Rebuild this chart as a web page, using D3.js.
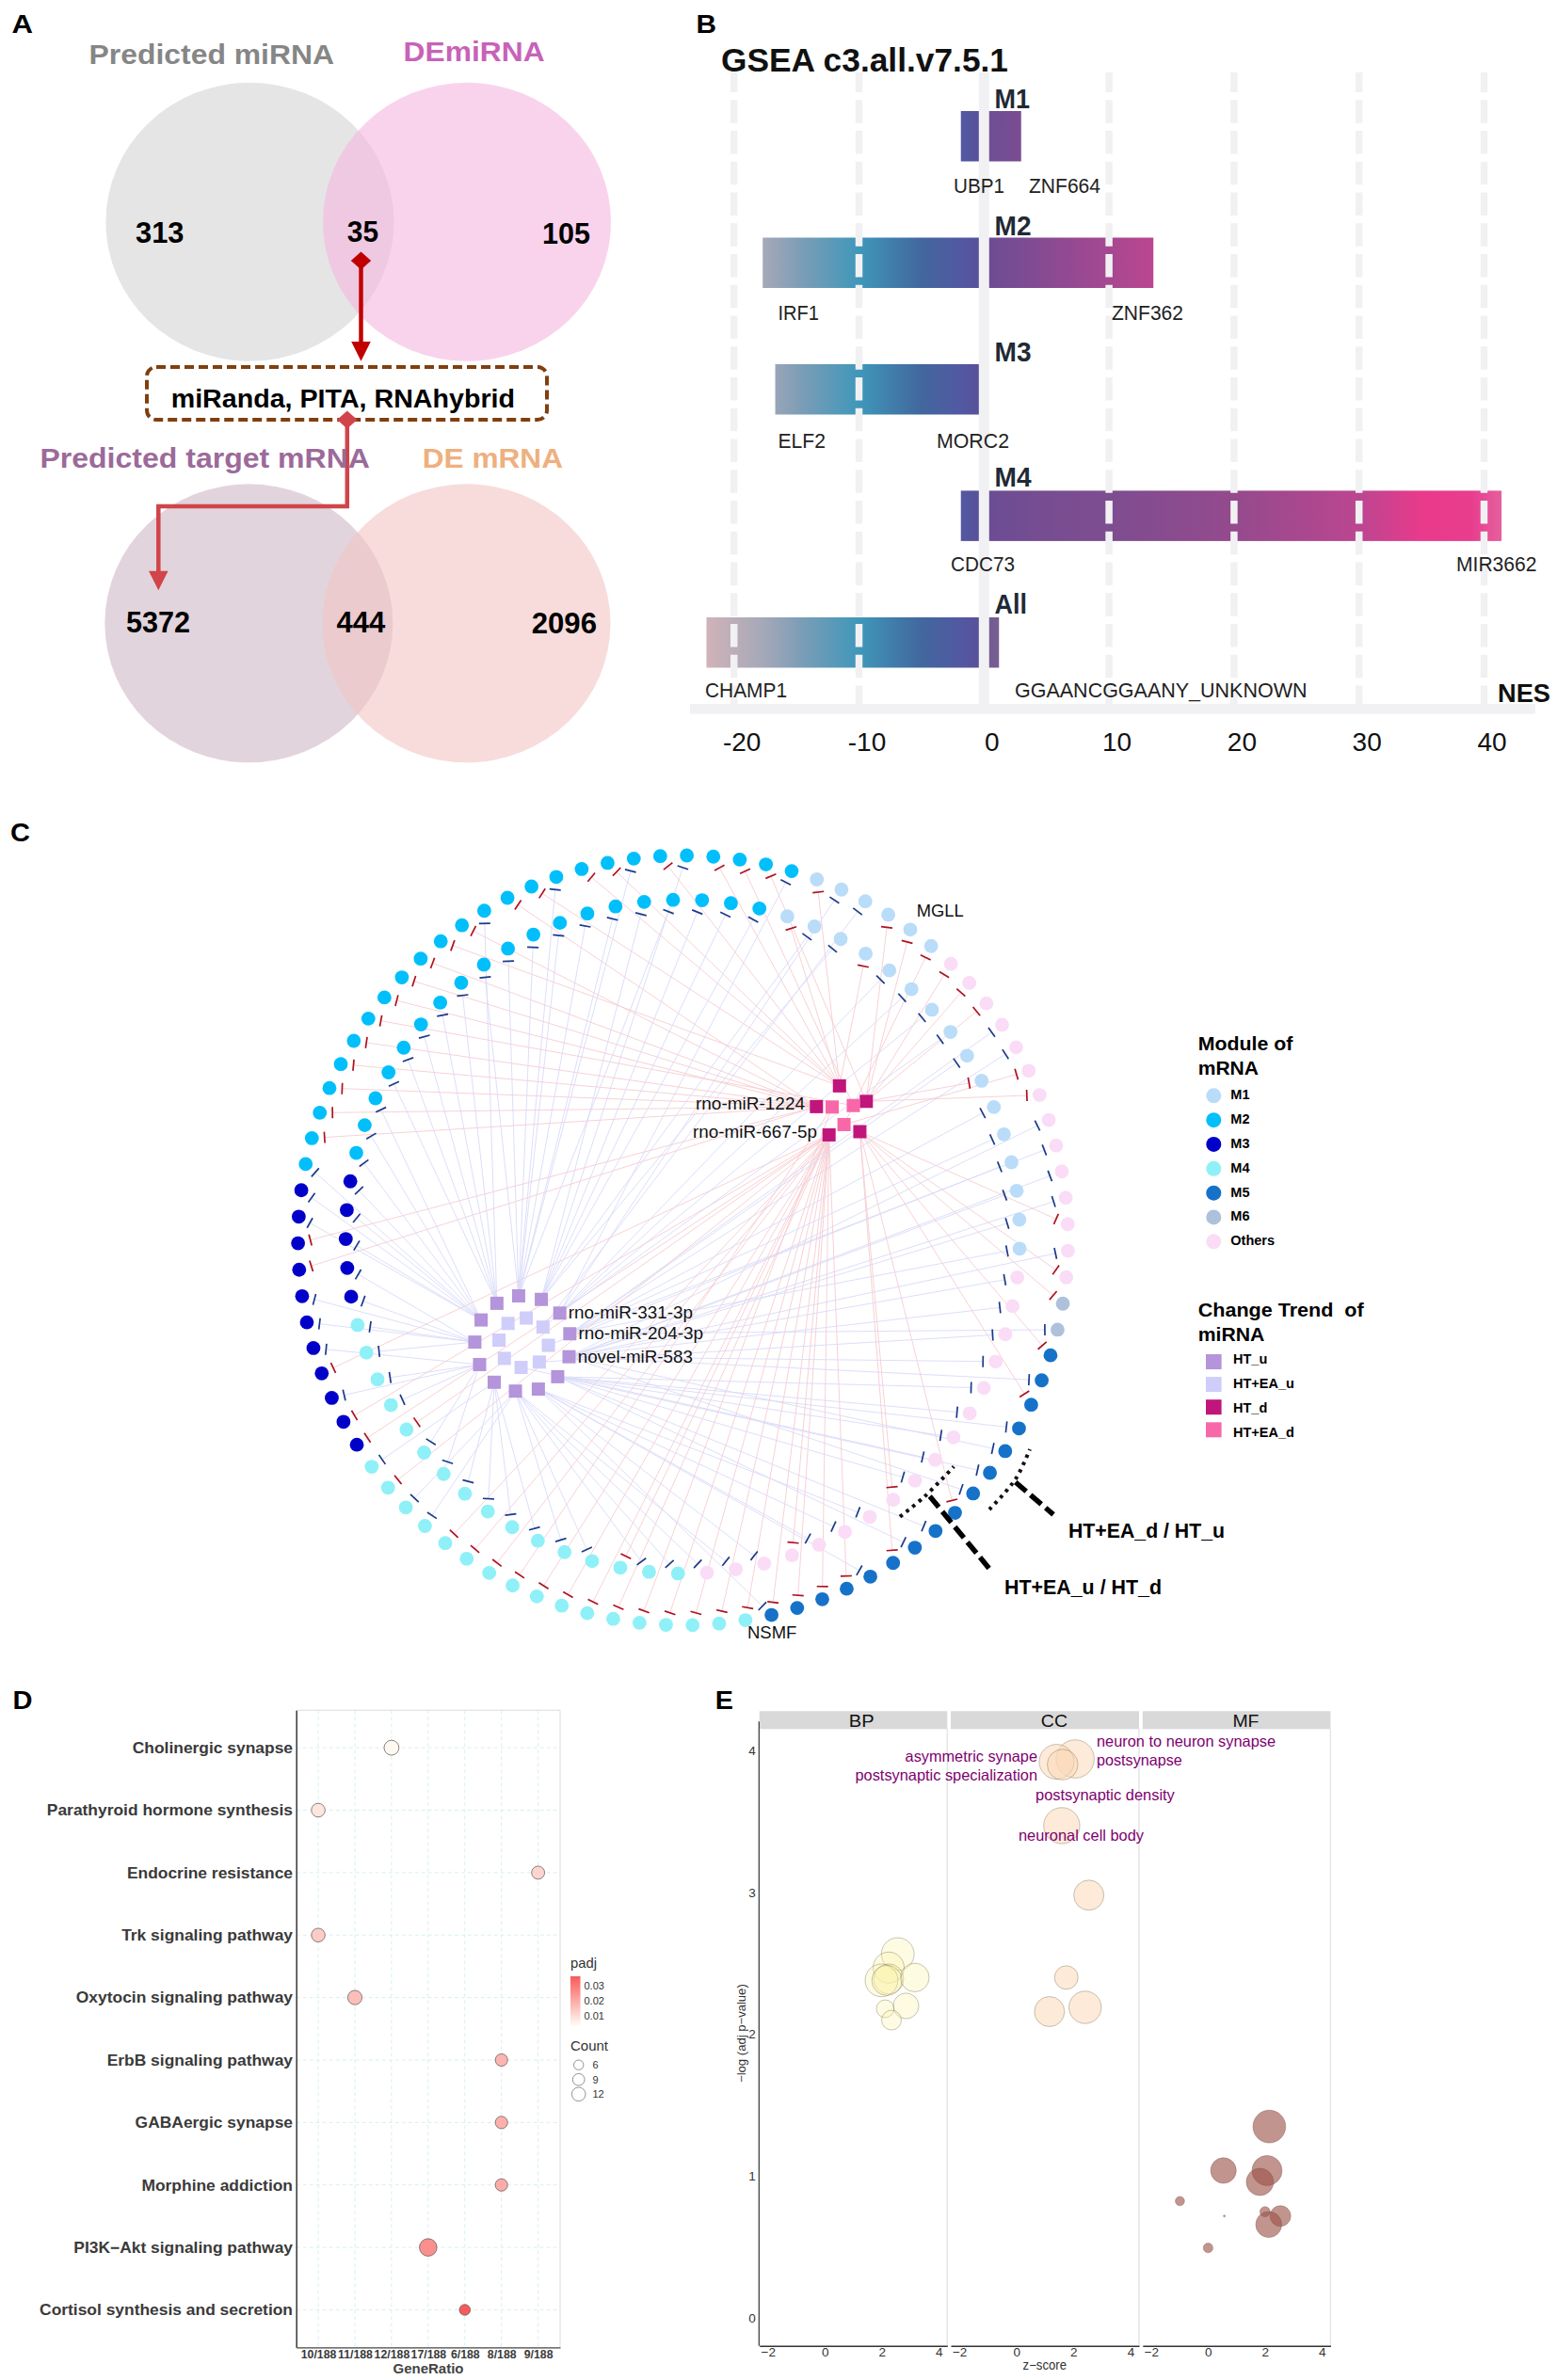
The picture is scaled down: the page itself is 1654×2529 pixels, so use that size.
<!DOCTYPE html>
<html><head><meta charset="utf-8">
<script src="https://cdnjs.cloudflare.com/ajax/libs/d3/7.8.5/d3.min.js"></script>
<style>html,body{margin:0;padding:0;background:#fff}svg{display:block;font-family:"Liberation Sans",Arial,sans-serif}</style>
</head><body><svg id="c" width="1654" height="2529" viewBox="0 0 1654 2529"></svg>
<script>
// ---------- Panel A
const vennTop=[313,35,105];
const vennBottom=[5372,444,2096];
// ---------- Panel B
const gseaModules=["M1","M2","M3","M4","All"];
const gseaNeg=[-1.85,-17.7,-16.7,-1.85,-22.2];
const gseaPos=[2.97,13.55,0,41.4,1.2];
const gseaTicks=[-20,-10,0,10,20,30,40];
const negStopValues=[-22.2,-17.5,-14.5,-10,-5,-1.85,0];
const negStopColors=["#d1b3b9","#a3a8b8","#7a9db6","#3f97ba","#42679e","#5258a2","#5a4f97"];
const posEndColors=[["#6c4f95","#7a4c91"],["#6a4d94","#bb4690"],["#5a4f97","#5a4f97"],null,["#6f5a92","#7a5f90"]];
const m4StopValues=[0,5,10,20,30,35,39,41.4];
const m4StopColors=["#6a4d94","#774d91","#7d4d90","#944a8d","#bb4690","#e93a8b","#e83d8d","#e5609e"];
// ---------- Panel C
const moduleNames=["M1","M2","M3","M4","M5","M6","Others"];
const moduleColors=["#b9dcf9","#00bffb","#0000c8","#8ff0f8","#1672c9","#adc1dc","#fadcf6"];
const trendNames=["HT_u","HT+EA_u","HT_d","HT+EA_d"];
const trendColors=["#b494da","#cfcdf9","#c0167c","#f868a8"];
const outerModules=[
"M2","M2","M2","M2","M2",
"M1","M1","M1","M1","M1","M1",
"Others","Others","Others","Others","Others","Others","Others","Others","Others","Others","Others","Others","Others","Others",
"M6","M6",
"M5","M5","M5","M5","M5","M5","M5","M5","M5","M5","M5","M5","M5","M5","M5","M5",
"M4","M4","M4","M4","M4","M4","M4","M4","M4","M4","M4","M4","M4","M4","M4","M4","M4",
"M3","M3","M3","M3","M3","M3","M3","M3","M3","M3","M3",
"M2","M2","M2","M2","M2","M2","M2","M2","M2","M2","M2","M2","M2","M2","M2","M2","M2","M2","M2","M2"];
const outerEdge=[
"b","r","r","r","b",
"r","b","b","r","r","r",
"r","r","r","b","b","r","r","b","b","b","b","r","b","r",
"r","b",
"r","b","r","b","b","b","b","r","b","b","r","b","r","r","r","x",
"r","r","r","r","r","r","r","r","r","r","r","r","r","b","b","r","b",
"r","r","b","r","b","b","b","r","r","b","b",
"b","r","r","r","r","r","r","r","r","r","r","r","b","r","r","b","r","r","b","r"];
const outerTarget=[
1,0,5,1,2,
0,2,14,1,1,6,
1,1,1,3,3,6,1,4,3,4,4,2,4,2,
2,3,
2,4,2,5,4,5,4,2,5,5,2,6,3,3,3,3,
3,3,3,3,7,3,3,3,3,7,3,3,3,7,7,3,8,
3,3,9,3,9,10,10,4,4,11,11,
11,4,4,4,4,4,5,4,4,4,0,4,12,4,0,0,0,0,0,0];
const innerModules=[
"M2","M2","M2","M2",
"M1","M1","M1","M1","M1","M1","M1","M1","M1","M1","M1","M1","M1","M1","M1","M1",
"Others","Others","Others","Others","Others","Others","Others","Others","Others","Others","Others","Others","Others","Others","Others","Others","Others",
"M4","M4","M4","M4","M4","M4","M4","M4","M4","M4","M4","M4","M4","M4","M4","M4",
"M3","M3","M3","M3","M3",
"M2","M2","M2","M2","M2","M2","M2","M2","M2","M2","M2","M2","M2","M2","M2"];
const innerEdge=[
"b","b","b","b",
"r","b","b","r","b","b","b","b","b","r","b","b","b","b","b","b",
"b","b","b","b","b","b","b","b","b","r","b","b","b","r","b","b","b",
"b","b","r","b","b","b","b","b","b","b","b","r","b","b","b","b",
"b","b","b","b","b",
"b","b","b","b","b","b","b","b","b","b","b","b","b","b","b"];
const innerTarget=[
0,1,1,1,
0,1,1,0,2,2,14,2,3,1,3,3,15,4,4,3,
4,4,16,4,5,5,5,17,5,2,6,6,6,3,6,7,7,
7,7,3,7,7,8,8,8,8,9,9,3,9,9,10,10,
10,10,11,11,11,
11,11,11,12,12,12,12,12,0,0,0,0,0,0,1];
const upTrend=["HT_u","HT_u","HT_u","HT_u","HT_u","HT_u","HT_u","HT_u","HT_u","HT_u","HT_u","HT_u","HT_u","HT+EA_u","HT+EA_u","HT+EA_u","HT+EA_u","HT+EA_u","HT+EA_u","HT+EA_u","HT+EA_u"];
const downTrend=["HT_d","HT_d","HT_d","HT_d","HT_d","HT+EA_d","HT+EA_d","HT+EA_d"];
// ---------- Panel D
const keggNames=["Cholinergic synapse","Parathyroid hormone synthesis","Endocrine resistance","Trk signaling pathway","Oxytocin signaling pathway","ErbB signaling pathway","GABAergic synapse","Morphine addiction","PI3K\u2212Akt signaling pathway","Cortisol synthesis and secretion"];
const keggRatio=["12/188","10/188","9/188","10/188","11/188","8/188","8/188","8/188","17/188","6/188"];
const keggCount=[12,10,9,10,11,8,8,8,17,6];
const keggPadj=[0.001,0.005,0.009,0.011,0.014,0.016,0.017,0.018,0.024,0.036];
const ratioOrder=["10/188","11/188","12/188","17/188","6/188","8/188","9/188"];
const padjTicks=[0.03,0.02,0.01];
const countTicks=[6,9,12];
// ---------- Panel E
const bpZ=[2.56,2.24,2.24,3.16,1.99,2.18,2.85,2.12,2.34];
const bpY=[2.565,2.47,2.39,2.40,2.38,2.38,2.2,2.18,2.10];
const bpS=[17.4,16.5,16,15.2,17.4,16,13.6,9.4,10.5];
const ccZ=[2.06,1.41,1.62,1.59,2.54,1.75,2.41,1.16];
const ccY=[3.94,3.92,3.90,3.47,2.98,2.40,2.19,2.16];
const ccS=[20.3,18.5,16.3,19.2,16,12.5,17.2,16];
const mfZ=[2.15,2.07,0.54,1.82,-0.99,0.57,2,2.54,2.13,0];
const mfY=[1.35,1.04,1.04,0.96,0.825,0.72,0.75,0.72,0.66,0.495];
const mfS=[17.4,16,13.6,14.5,4.9,1,5.4,11,13.8,5.1];
const goPanels=["BP","CC","MF"];
const goFill=["#fbf3a8","#fbd8b8","#9c5248"];
const goOpacity=[0.32,0.55,0.62];

const svg=d3.select("#c");
svg.append("rect").attr("width",1654).attr("height",2529).attr("fill","#fff");
function T(str,x0,x1,base,size,weight,fill,parent){
  return (parent||svg).append("text").text(str).attr("x",x0).attr("y",base)
   .attr("textLength",x1-x0).attr("lengthAdjust","spacingAndGlyphs")
   .attr("font-size",size).attr("font-weight",weight||"normal").attr("fill",fill||"#000");
}
function stretch(sel,k){sel.each(function(){this.setAttribute("textLength",this.getComputedTextLength()*k);this.setAttribute("lengthAdjust","spacingAndGlyphs");});}

// ===== A
T("A",12.5,35,35,28,"bold");
const gA=svg.append("g");
[[265.4,235.8,153,148,"#e5e5e5",1],[496,235.8,153,148,"#f5b5df",0.6],[264.3,662.3,153,148,"#e2d4dc",1],[495.5,662.3,153,148,"#f2c5c3",0.6]]
 .forEach(e=>gA.append("ellipse").attr("cx",e[0]).attr("cy",e[1]).attr("rx",e[2]).attr("ry",e[3]).attr("fill",e[4]).attr("opacity",e[5]));
T("Predicted miRNA",94.6,355,67.8,29,"bold","#868686");
T("DEmiRNA",428.6,578.6,64.6,29,"bold","#c862b8");
T(vennTop[0],144,195.5,258.3,31,"bold");
T(vennTop[1],368.8,402,256.8,31,"bold");
T(vennTop[2],576,627,259.4,31,"bold");
gA.append("rect").attr("x",156).attr("y",390).attr("width",425).attr("height",56).attr("rx",10).attr("fill","none").attr("stroke","#7f3f10").attr("stroke-width",4).attr("stroke-dasharray","10,5");
T("miRanda, PITA, RNAhybrid",181.7,547,433,27,"bold");
T("Predicted target mRNA",42.4,393,496.6,29,"bold","#9c6a9a");
T("DE mRNA",448.7,598,496.6,29,"bold","#eeb07f");
T(vennBottom[0],134,202,672.3,31,"bold");
T(vennBottom[1],357.6,409.4,672.3,31,"bold");
T(vennBottom[2],564.7,634,673,31,"bold");
gA.append("path").attr("d","M383.5 276.9 V365").attr("stroke","#c00000").attr("stroke-width",4.5).attr("fill","none");
gA.append("path").attr("d","M383.5 267.4 L394.2 276.9 L383.5 286.4 L372.8 276.9Z M373.2 363 H393.8 L383.5 383.8Z").attr("fill","#c00000");
gA.append("path").attr("d","M368.8 446 V537.9 H168.3 V610").attr("stroke","#d0444a").attr("stroke-width",4.5).attr("fill","none");
gA.append("path").attr("d","M368.8 436.5 L379.5 446 L368.8 455.5 L358.1 446Z M158 606.7 H178.6 L168.3 627.3Z").attr("fill","#d0444a");

// ===== B
T("B",739.5,761,35,28,"bold");
T("GSEA c3.all.v7.5.1",766,1071,75.7,35,"bold","#111");
const xB=d3.scaleLinear().domain([-20,40]).range([779.7,1576.5]);
const defs=svg.append("defs");
const gradNeg=defs.append("linearGradient").attr("id","nesNeg").attr("gradientUnits","userSpaceOnUse").attr("x1",xB(-22.2)).attr("x2",xB(0)).attr("y1",0).attr("y2",0);
const negPos=d3.scaleLinear().domain([-22.2,0]).range([0,1]);
negStopValues.forEach((v,i)=>gradNeg.append("stop").attr("offset",negPos(v)).attr("stop-color",negStopColors[i]));
const rowTop=[118,252.5,387,521.4,656], barH=53.5;
const gB=svg.append("g");
gseaModules.forEach((m,i)=>{
  gB.append("rect").attr("x",xB(gseaNeg[i])).attr("y",rowTop[i]).attr("width",xB(0)-xB(gseaNeg[i])).attr("height",barH).attr("fill","url(#nesNeg)");
  if(gseaPos[i]<=0) return;
  const gr=defs.append("linearGradient").attr("id","nesPos"+i).attr("gradientUnits","userSpaceOnUse").attr("x1",xB(0)).attr("x2",xB(gseaPos[i])).attr("y1",0).attr("y2",0);
  if(m==="M4"){
    const p=d3.scaleLinear().domain([0,41.4]).range([0,1]);
    m4StopValues.forEach((v,k)=>gr.append("stop").attr("offset",p(v)).attr("stop-color",m4StopColors[k]));
  } else {
    gr.append("stop").attr("offset",0).attr("stop-color",posEndColors[i][0]);
    gr.append("stop").attr("offset",1).attr("stop-color",posEndColors[i][1]);
  }
  gB.append("rect").attr("x",xB(0)).attr("y",rowTop[i]).attr("width",xB(gseaPos[i])-xB(0)).attr("height",barH).attr("fill","url(#nesPos"+i+")");
});
gseaTicks.forEach(t=>{
  if(t===0) gB.append("line").attr("x1",xB(0)).attr("x2",xB(0)).attr("y1",76.8).attr("y2",750).attr("stroke","#f1f1f3").attr("stroke-width",11);
  else gB.append("line").attr("x1",xB(t)).attr("x2",xB(t)).attr("y1",76.8).attr("y2",750).attr("stroke","#f1f1f3").attr("stroke-width",7.5).attr("stroke-dasharray","24.5,8.25").attr("stroke-dashoffset",3.3);
});
gB.append("rect").attr("x",733).attr("y",748).attr("width",898).attr("height",10.6).attr("fill","#f1f1f3");
const axB=svg.append("g").attr("transform","translate(8,770)").call(d3.axisBottom(xB).tickValues(gseaTicks).tickSize(0).tickPadding(6).tickFormat(d=>d));
axB.select(".domain").remove();
axB.selectAll("text").attr("font-size",28).attr("font-family","Liberation Sans").attr("fill","#111").attr("y",28.3).attr("dy",0);
const modBase=[115.4,249.9,383.8,517.2,651.7];
gseaModules.forEach((m,i)=>T(m,1056.5,m==="All"?1091:(i===0?1094:1095.5),modBase[i],29,"bold","#1f2a36"));
[["UBP1",1013,1067,205.4],["ZNF664",1093,1169,205.4],["IRF1",826.5,870,339.9],["ZNF362",1181,1257,339.9],["ELF2",826.5,877,476],["MORC2",995,1072,476],["CDC73",1010,1078,606.7],["MIR3662",1547,1632.5,606.7],["CHAMP1",749,836,741],["GGAANCGGAANY_UNKNOWN",1078,1388.5,741]]
 .forEach(d=>T(d[0],d[1],d[2],d[3],22,"normal","#222"));
T("NES",1591,1647,746.4,28,"bold","#111");

// ===== C
T("C",11,32,893.5,28,"bold");
const outerC={x:725.6,y:1318,r:409}, innerC={x:725.3,y:1314,r:358};
const angOuter=d3.scaleLinear().domain([0,outerModules.length]).range([0.56,360.56]);
const angInner=d3.scaleLinear().domain([0,innerModules.length]).range([-1.65,358.35]);
const pol=(c,a,r)=>({x:c.x+(r||c.r)*Math.sin(a*Math.PI/180),y:c.y-(r||c.r)*Math.cos(a*Math.PI/180)});
const color=d3.scaleOrdinal().domain(moduleNames).range(moduleColors);
const tColor=d3.scaleOrdinal().domain(trendNames).range(trendColors);
// miRNA clusters
const upOuter=d3.scaleLinear().domain([0,13]).range([-5,355]);
const upInner=d3.scaleLinear().domain([0,8]).range([6,366]);
const downOuter=d3.scaleLinear().domain([0,5]).range([-6,354]);
const downInner=d3.scaleLinear().domain([0,3]).range([56,416]);
const upPts=upTrend.map((t,i)=>i<13?{t,...pol({x:555.4,y:1427.8},upOuter(i),51)}:{t,...pol({x:556.3,y:1426.8},upInner(i-13),26.4)});
const downPts=downTrend.map((t,i)=>i<5?{t,...pol({x:894.7,y:1181.7},downOuter(i),28)}:{t,...pol({x:895.7,y:1182},downInner(i-5),13)});
const mk=(mods,edge,tgt,ang,c)=>mods.map((m,i)=>({m,e:edge[i],tgt:tgt[i],...pol(c,ang(i))}));
const nodes=[...mk(outerModules,outerEdge,outerTarget,angOuter,outerC),...mk(innerModules,innerEdge,innerTarget,angInner,innerC)];
const gEdges=svg.append("g"), gTicks=svg.append("g");
function link(n,kind,t){
  const P=kind==="r"?downPts[t%downPts.length]:upPts[t%upPts.length];
  const dx=P.x-n.x,dy=P.y-n.y,L=Math.hypot(dx,dy),ux=dx/L,uy=dy/L;
  const sx=n.x+ux*13.5,sy=n.y+uy*13.5;
  gEdges.append("line").attr("x1",sx).attr("y1",sy).attr("x2",P.x).attr("y2",P.y).attr("stroke",kind==="r"?"#f8cdd1":"#d9dcf9").attr("stroke-width",1).attr("opacity",0.9);
  gTicks.append("line").attr("x1",sx-uy*6).attr("y1",sy+ux*6).attr("x2",sx+uy*6).attr("y2",sy-ux*6).attr("stroke",kind==="r"?"#b01020":"#1a3a8c").attr("stroke-width",1.7);
}
nodes.forEach(n=>{
  if(n.e==="x"){link(n,"r",n.tgt);link(n,"b",6);}
  else link(n,n.e,n.tgt);
});
svg.append("g").selectAll("circle").data(nodes).join("circle").attr("cx",d=>d.x).attr("cy",d=>d.y).attr("r",7.4).attr("fill",d=>color(d.m));
svg.append("g").selectAll("rect").data([...upPts,...downPts]).join("rect").attr("x",d=>d.x-7).attr("y",d=>d.y-7).attr("width",14).attr("height",14).attr("fill",d=>tColor(d.t));
[["MGLL",973.7,1023.7,974.3],["rno-miR-1224",739,855,1179.3],["rno-miR-667-5p",736,868,1209.3],["rno-miR-331-3p",603.8,736,1400.7],["rno-miR-204-3p",614.5,747,1423.3],["novel-miR-583",613.7,736,1448.3],["NSMF",794,846.4,1741]]
 .forEach(d=>T(d[0],d[1],d[2],d[3],18.5,"normal","#111"));
const curve=d3.line().curve(d3.curveCatmullRom);
svg.append("path").attr("d",curve([[956,1611.7],[982.4,1590],[1013.3,1558.3]])).attr("fill","none").attr("stroke","#111").attr("stroke-width",4).attr("stroke-dasharray","3.5,5");
svg.append("path").attr("d",curve([[1051,1604],[1078.8,1571.7],[1094,1540]])).attr("fill","none").attr("stroke","#111").attr("stroke-width",4).attr("stroke-dasharray","3.5,5");
svg.append("line").attr("x1",987.7).attr("y1",1590).attr("x2",1050.8).attr("y2",1666.7).attr("stroke","#000").attr("stroke-width",5.5).attr("stroke-dasharray","15,6");
svg.append("line").attr("x1",1078.8).attr("y1",1575).attr("x2",1119).attr("y2",1609.3).attr("stroke","#000").attr("stroke-width",5.5).attr("stroke-dasharray","15,6");
T("HT+EA_d / HT_u",1135,1301,1634.3,22,"bold");
T("HT+EA_u / HT_d",1067,1234,1694,22,"bold");
// legend
T("Module of",1272.7,1373.3,1116,21,"bold");
T("mRNA",1272.7,1337,1142.3,21,"bold");
const legM=d3.scalePoint().domain(moduleNames).range([1164.3,1319.3]);
moduleNames.forEach(m=>{
  svg.append("circle").attr("cx",1289.3).attr("cy",legM(m)).attr("r",8).attr("fill",color(m));
  svg.append("text").text(m).attr("x",1307.3).attr("y",legM(m)+4).attr("font-size",14.5).attr("font-weight","bold");
});
T("Change Trend  of",1272.7,1448.7,1399.3,21,"bold").attr("xml:space","preserve");
T("miRNA",1272.7,1343.3,1425,21,"bold");
const legT=d3.scalePoint().domain(trendNames).range([1447,1519.3]);
const legTL=d3.scalePoint().domain(trendNames).range([1449.3,1526.7]);
trendNames.forEach(t=>{
  svg.append("rect").attr("x",1281).attr("y",legT(t)-8).attr("width",16.6).attr("height",16).attr("fill",tColor(t));
  svg.append("text").text(t).attr("x",1310).attr("y",legTL(t)).attr("font-size",14.5).attr("font-weight","bold");
});

// ===== D
T("D",13.4,34.4,1815.8,28,"bold");
const xD=d3.scalePoint().domain(ratioOrder).range([314.7,595]).padding(0.6);
const yD=d3.scalePoint().domain(keggNames).range([1817.3,2494.3]).padding(0.6);
const gD=svg.append("g");
ratioOrder.forEach(r=>gD.append("line").attr("x1",xD(r)).attr("x2",xD(r)).attr("y1",1817.3).attr("y2",2494.3).attr("stroke","#d9efef").attr("stroke-dasharray","4,3"));
keggNames.forEach(r=>gD.append("line").attr("x1",314.7).attr("x2",595).attr("y1",yD(r)).attr("y2",yD(r)).attr("stroke","#d9efef").attr("stroke-dasharray","4,3"));
gD.append("path").attr("d","M314.7 1817.3 H595 V2494.3").attr("fill","none").attr("stroke","#dcdcdc");
const rD=d3.scaleSqrt().domain([6,17]).range([5,8.5]);
const cD=d3.scaleLinear().domain([0,0.036]).range(["#fffdf5","#f85a5a"]);
gD.selectAll("circle").data(keggNames).join("circle").attr("cx",(d,i)=>xD(keggRatio[i])).attr("cy",d=>yD(d)).attr("r",(d,i)=>rD(keggCount[i])+0.8).attr("fill",(d,i)=>cD(keggPadj[i])).attr("stroke","#555").attr("stroke-width",0.7);
const axDy=svg.append("g").attr("transform","translate(314.7,0)").call(d3.axisLeft(yD).tickSize(0).tickPadding(3.7));
axDy.select(".domain").attr("stroke","#444").attr("stroke-width",1.6);
axDy.selectAll("text").attr("font-size",16.5).attr("font-weight","bold").attr("font-family","Liberation Sans").attr("fill","#3a3a3a").call(stretch,1.055);
const axDx=svg.append("g").attr("transform","translate(0,2494.3)").call(d3.axisBottom(xD).tickSize(0).tickPadding(3));
axDx.select(".domain").attr("stroke","#444").attr("stroke-width",1.2);
axDx.selectAll("text").attr("font-size",12.3).attr("font-weight","bold").attr("font-family","Liberation Sans").attr("fill","#3a3a3a");
svg.append("text").text("GeneRatio").attr("x",455).attr("y",2522).attr("text-anchor","middle").attr("font-size",15).attr("font-weight","bold").attr("fill","#444");
T("padj",606,634,2090.6,14.5,"normal","#333");
const barG=defs.append("linearGradient").attr("id","padjBar").attr("x1",0).attr("x2",0).attr("y1",1).attr("y2",0);
barG.append("stop").attr("offset",0).attr("stop-color","#fffdf5");
barG.append("stop").attr("offset",1).attr("stop-color","#f85a5a");
svg.append("rect").attr("x",606).attr("y",2100).attr("width",10.5).attr("height",52.7).attr("fill","url(#padjBar)");
const padjY=d3.scaleLinear().domain([0.01,0.03]).range([2142.2,2110.6]);
padjTicks.forEach(p=>svg.append("text").text(p).attr("x",620.5).attr("y",padjY(p)+3.8).attr("font-size",11).attr("fill","#333"));
T("Count",606,646,2179,14.5,"normal","#333");
const countY=d3.scaleLinear().domain([6,12]).range([2194.2,2225.3]);
countTicks.forEach(c=>{
  svg.append("circle").attr("cx",614.7).attr("cy",countY(c)).attr("r",rD(c)+0.2).attr("fill","#fff").attr("stroke","#777").attr("stroke-width",0.8);
  svg.append("text").text(c).attr("x",629.5).attr("y",countY(c)+3.8).attr("font-size",11).attr("fill","#333");
});

// ===== E
T("E",759.8,779,1815.7,28,"bold");
const yE=d3.scaleLinear().domain([0,4]).range([2463.3,1860]);
const panelRange=[[806.7,1006.3],[1010,1210],[1213.8,1413.4]];
const goData=[[bpZ,bpY,bpS],[ccZ,ccY,ccS],[mfZ,mfY,mfS]];
const rE=d3.scaleLinear().domain([0,20]).range([0,20]);
const stripText=[[901.8,928.6],[1105.8,1134],[1309.4,1337.5]];
goPanels.forEach((p,i)=>{
  const g=svg.append("g");
  const R=panelRange[i];
  const xE=d3.scaleLinear().domain([-2.3,4.3]).range(R);
  g.append("rect").attr("x",R[0]).attr("y",1818.3).attr("width",R[1]-R[0]).attr("height",19).attr("fill","#d9d9d9");
  T(p,stripText[i][0],stripText[i][1],1835,18.5,"normal","#111",g);
  g.append("line").attr("x1",R[1]).attr("x2",R[1]).attr("y1",1837).attr("y2",2492.7).attr("stroke","#e6e6e6").attr("stroke-width",1.5);
  const [Z,Y,S]=goData[i];
  g.selectAll("circle").data(Z).join("circle").attr("cx",d=>xE(d)).attr("cy",(d,k)=>yE(Y[k])).attr("r",(d,k)=>rE(S[k])).attr("fill",goFill[i]).attr("fill-opacity",goOpacity[i]).attr("stroke",i===2?"#7a5555":"#6f6a4a").attr("stroke-opacity",0.55).attr("stroke-width",0.7);
  const ax=svg.append("g").attr("transform","translate(0,2492.7)").call(d3.axisBottom(xE).tickValues([-2,0,2,4]).tickSize(0).tickPadding(2).tickFormat(d=>String(d).replace("-","\u2212")));
  ax.select(".domain").attr("stroke","#333").attr("stroke-width",1.5);
  ax.selectAll("text").attr("font-size",13.5).attr("font-family","Liberation Sans").attr("fill","#333");
});
const axEy=svg.append("g").attr("transform","translate(806.3,0)").call(d3.axisLeft(yE).tickValues([0,1,2,3,4]).tickFormat(d3.format("d")).tickSize(0).tickPadding(3.5));
axEy.select(".domain").remove();
svg.append("line").attr("x1",806.3).attr("x2",806.3).attr("y1",1829.3).attr("y2",2492.7).attr("stroke","#333").attr("stroke-width",1.2);
axEy.selectAll("text").attr("font-size",13.5).attr("font-family","Liberation Sans").attr("fill","#333");
svg.append("text").text("\u2212log (adj p\u2212value)").attr("transform","translate(791.5,2160.6) rotate(-90)").attr("text-anchor","middle").attr("textLength",104.7).attr("lengthAdjust","spacingAndGlyphs").attr("font-size",12.5).attr("fill","#333");
T("z\u2212score",1086.6,1133,2518.3,14,"normal","#333");
[["neuron to neuron synapse",1165,1355,1856],["postsynapse",1165,1255.8,1876],["asymmetric synape",961.6,1102,1871.7],["postsynaptic specialization",908.5,1102,1892],["postsynaptic density",1100,1247.8,1913.3],["neuronal cell body",1082,1215,1955.7]]
 .forEach(d=>T(d[0],d[1],d[2],d[3],16.5,"normal","#800070"));
</script></body></html>
